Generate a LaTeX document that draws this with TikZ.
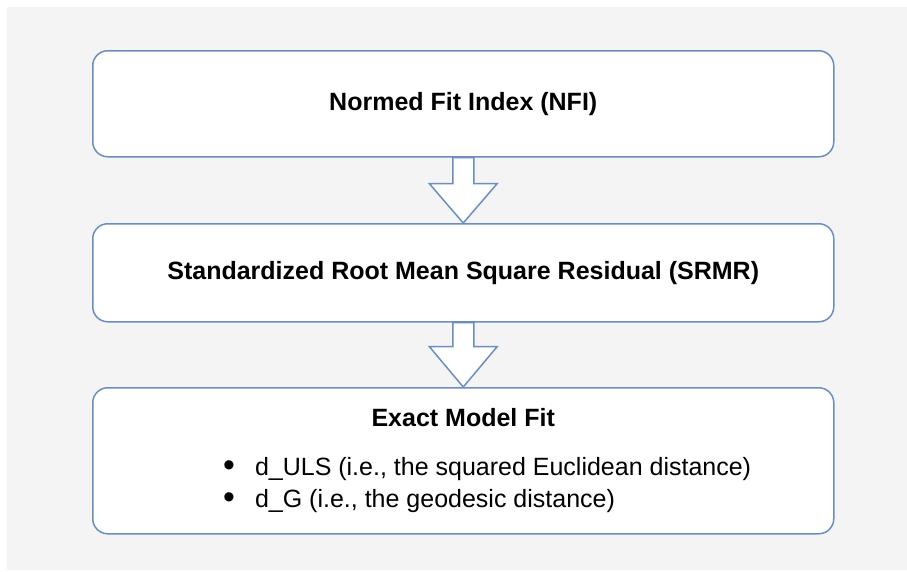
\documentclass[tikz,border=0pt]{standalone}
\usepackage{fontspec}
\setmainfont{Liberation Sans}
\usetikzlibrary{calc}
\definecolor{edgeblue}{HTML}{6C8EBF}
\definecolor{canvas}{HTML}{F4F4F4}
\newcommand{\bigdot}{\raisebox{-0.5pt}{\scalebox{1.35}{\textbullet}}}
\tikzset{
  stagebox/.style={draw=edgeblue, fill=white, line width=1.5pt, rounded corners=15pt,
    minimum width=741pt, inner sep=0pt, anchor=north west},
  headtext/.style={font=\fontsize{25}{30}\selectfont\bfseries, text=black, inner sep=0pt},
  bodytext/.style={font=\fontsize{25}{32}\selectfont, text=black, inner sep=0pt},
  flowarrow/.style={draw=edgeblue, fill=white, line width=1.5pt, line join=miter},
}
\begin{document}
\begin{tikzpicture}[x=1pt, y=-1pt]
  \useasboundingbox (0,0) rectangle (907,571);
  \fill[canvas] (7,7) rectangle (907,570);

  % the three stages
  \node[stagebox, minimum height=106pt] (nfi) at (92,50) {};
  \node[stagebox, minimum height=98pt] (srmr) at (92,223) {};
  \node[stagebox, minimum height=146pt] (exact) at (92,387) {};

  \node[headtext] (nfit) at (nfi.center) {Normed Fit Index (NFI)};
  \node[headtext] (srmrt) at (srmr.center) {Standardized Root Mean Square Residual (SRMR)};
  \node[headtext] (exactt) at ($(exact.north)+(0,31)$) {Exact Model Fit};
  \node[bodytext, anchor=north west] (items) at ($(exact.north west)+(131,66)$)
    {\begin{tabular}{@{}l@{\hspace{20pt}}l@{}}
      \bigdot & d\_ULS (i.e., the squared Euclidean distance)\\
      \bigdot & d\_G (i.e., the geodesic distance)
    \end{tabular}};

  % block arrows between the stages
  \draw[flowarrow] ($(nfi.south)+(-10.5,0)$) -- ($(nfi.south)+(10.5,0)$)
    -- ($(nfi.south)+(10.5,26)$) -- ($(nfi.south)+(34,26)$) -- (srmr.north)
    -- ($(nfi.south)+(-34,26)$) -- ($(nfi.south)+(-10.5,26)$) -- cycle;
  \draw[flowarrow] ($(srmr.south)+(-10.5,0)$) -- ($(srmr.south)+(10.5,0)$)
    -- ($(srmr.south)+(10.5,24)$) -- ($(srmr.south)+(34,24)$) -- (exact.north)
    -- ($(srmr.south)+(-34,24)$) -- ($(srmr.south)+(-10.5,24)$) -- cycle;
\end{tikzpicture}
\end{document}
